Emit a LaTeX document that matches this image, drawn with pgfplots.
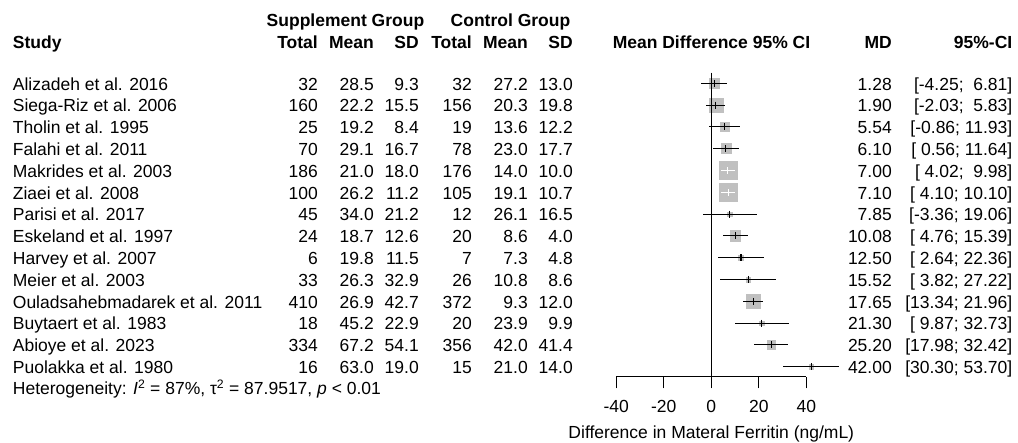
\documentclass[border=0pt]{standalone}
\usepackage{fontspec}
\setmainfont{Liberation Sans}
\usepackage{pgfplots}
\usepackage{pgfplotstable}
\pgfplotsset{compat=1.18}
\definecolor{sq}{HTML}{C0C0C0}

% squares: row, mean difference, half side of the square (pt)
\pgfplotstableread{
y    md     s
-1   1.28   4.7
-2   1.90   7.0
-3   5.54   4.3
-4   6.10   5.0
-5   7.00   9.0
-6   7.10   8.8
-7   7.85   2.3
-8   10.08  5.3
-9   12.50  2.7
-10  15.52  2.3
-11  17.65  6.8
-12  21.30  2.2
-13  25.20  4.2
-14  42.00  2.2
}\sqtab

% confidence intervals drawn in black
\pgfplotstableread{
y    md     lo     hi
-1   1.28   -4.25  6.81
-2   1.90   -2.03  5.83
-3   5.54   -0.86  11.93
-4   6.10   0.56   11.64
-7   7.85   -3.36  19.06
-8   10.08  4.76   15.39
-9   12.50  2.64   22.36
-10  15.52  3.82   27.22
-11  17.65  13.34  21.96
-12  21.30  9.87   32.73
-13  25.20  17.98  32.42
-14  42.00  30.30  53.70
}\citab

% confidence intervals lying inside their square (drawn in white)
\pgfplotstableread{
y    md     lo     hi
-5   7.00   4.02   9.98
-6   7.10   4.10   10.10
}\ciwtab

\newcommand{\rowA}[8]{%
  \pgfmathsetmacro{\yy}{83.3+21.8*(#1-1)+6.8}%
  \node[anchor=base west] at (12.7,\yy) {#2};
  \node[anchor=base east] at (318,\yy) {#3};
  \node[anchor=base east] at (374,\yy) {#4};
  \node[anchor=base east] at (419,\yy) {#5};
  \node[anchor=base east] at (472,\yy) {#6};
  \node[anchor=base east] at (528,\yy) {#7};
  \node[anchor=base east] at (573,\yy) {#8};
}
\newcommand{\rowB}[3]{%
  \pgfmathsetmacro{\yy}{83.3+21.8*(#1-1)+6.8}%
  \node[anchor=base east] at (892,\yy) {#2};
  \node[anchor=base east] at (1012.5,\yy) {#3};
}

\begin{document}
\fontsize{17.5}{21}\selectfont
\begin{tikzpicture}
% pixel-like frame: (px,py) with origin at top left of the figure
\begin{scope}[shift={(-616.3pt,376.7pt)}, x=1pt, y=-1pt, every node/.style={inner sep=0pt}]
  \path[use as bounding box] (0,0) rectangle (1018,442);
  % headers
  \node[anchor=base, font=\bfseries] at (345.5,27) {Supplement Group};
  \node[anchor=base, font=\bfseries] at (510.5,27) {Control Group};
  \node[anchor=base west, font=\bfseries] at (12.7,49) {Study};
  \node[anchor=base east, font=\bfseries] at (318,49) {Total};
  \node[anchor=base east, font=\bfseries] at (374,49) {Mean};
  \node[anchor=base east, font=\bfseries] at (419,49) {SD};
  \node[anchor=base east, font=\bfseries] at (472,49) {Total};
  \node[anchor=base east, font=\bfseries] at (528,49) {Mean};
  \node[anchor=base east, font=\bfseries] at (573,49) {SD};
  \node[anchor=base, font=\bfseries] at (711.5,49) {Mean Difference 95\% CI};
  \node[anchor=base east, font=\bfseries] at (892,49) {MD};
  \node[anchor=base east, font=\bfseries] at (1012.5,49) {95\%-CI};
  % study rows
  \rowA{1}{Alizadeh et al. 2016}{32}{28.5}{9.3}{32}{27.2}{13.0}
  \rowA{2}{Siega-Riz et al. 2006}{160}{22.2}{15.5}{156}{20.3}{19.8}
  \rowA{3}{Tholin et al. 1995}{25}{19.2}{8.4}{19}{13.6}{12.2}
  \rowA{4}{Falahi et al. 2011}{70}{29.1}{16.7}{78}{23.0}{17.7}
  \rowA{5}{Makrides et al. 2003}{186}{21.0}{18.0}{176}{14.0}{10.0}
  \rowA{6}{Ziaei et al. 2008}{100}{26.2}{11.2}{105}{19.1}{10.7}
  \rowA{7}{Parisi et al. 2017}{45}{34.0}{21.2}{12}{26.1}{16.5}
  \rowA{8}{Eskeland et al. 1997}{24}{18.7}{12.6}{20}{8.6}{4.0}
  \rowA{9}{Harvey et al. 2007}{6}{19.8}{11.5}{7}{7.3}{4.8}
  \rowA{10}{Meier et al. 2003}{33}{26.3}{32.9}{26}{10.8}{8.6}
  \rowA{11}{Ouladsahebmadarek et al. 2011}{410}{26.9}{42.7}{372}{9.3}{12.0}
  \rowA{12}{Buytaert et al. 1983}{18}{45.2}{22.9}{20}{23.9}{9.9}
  \rowA{13}{Abioye et al. 2023}{334}{67.2}{54.1}{356}{42.0}{41.4}
  \rowA{14}{Puolakka et al. 1980}{16}{63.0}{19.0}{15}{21.0}{14.0}
  \rowB{1}{1.28}{[-4.25;\ \ 6.81]}
  \rowB{2}{1.90}{[-2.03;\ \ 5.83]}
  \rowB{3}{5.54}{[-0.86; 11.93]}
  \rowB{4}{6.10}{[\ 0.56; 11.64]}
  \rowB{5}{7.00}{[\ 4.02;\ \ 9.98]}
  \rowB{6}{7.10}{[\ 4.10; 10.10]}
  \rowB{7}{7.85}{[-3.36; 19.06]}
  \rowB{8}{10.08}{[\ 4.76; 15.39]}
  \rowB{9}{12.50}{[\ 2.64; 22.36]}
  \rowB{10}{15.52}{[\ 3.82; 27.22]}
  \rowB{11}{17.65}{[13.34; 21.96]}
  \rowB{12}{21.30}{[\ 9.87; 32.73]}
  \rowB{13}{25.20}{[17.98; 32.42]}
  \rowB{14}{42.00}{[30.30; 53.70]}
  \node[anchor=base west] at (12.7,395) {Heterogeneity: {\itshape I}\textsuperscript{2} = 87\%, τ\textsuperscript{2} = 87.9517, {\itshape p} < 0.01};
\end{scope}
\begin{axis}[
  x=2.375pt, y=21.8pt,
  xmin=-40, xmax=40, ymin=-14.459, ymax=-0.514,
  axis x line=bottom, axis y line=none,
  x axis line style={-, line width=1.1pt, black},
  xtick={-40,-20,0,20,40}, ytick=\empty,
  tick align=outside, major tick length=11.7pt,
  xtick style={black, line width=1.1pt},
  /pgf/number format/assume math mode=true,
  xticklabel style={anchor=base, inner sep=0pt, yshift=-24.3pt},
  xlabel={Difference in Materal Ferritin (ng/mL)},
  xlabel style={at={(axis description cs:0.5,0)}, anchor=base, inner sep=0pt, yshift=-61.8pt},
  clip=false, clip marker paths=true,
]
\addplot[scatter, only marks, mark=square*,
  scatter/use mapped color={draw=sq, fill=sq},
  visualization depends on={\thisrow{s}\as\msize},
  scatter/@pre marker code/.append style={/tikz/mark size=\msize}]
  table[x=md, y=y] {\sqtab};
\addplot[black, line width=1.1pt] coordinates {(0,-0.514) (0,-14.459)};
\addplot[only marks, mark=|, mark size=3.5pt, black, mark options={line width=1.1pt},
  error bars/.cd, x dir=both, x explicit, error mark=none,
  error bar style={line width=1.1pt, black}]
  table[x=md, y=y, x error minus expr=\thisrow{md}-\thisrow{lo}, x error plus expr=\thisrow{hi}-\thisrow{md}] {\citab};
% white intervals inside the two largest squares
\addplot[white, line width=1.1pt] coordinates {(4.02,-5) (9.98,-5)};
\addplot[white, line width=1.1pt] coordinates {(4.10,-6) (10.10,-6)};
\addplot[only marks, mark=|, mark size=3.5pt, white, mark options={line width=1.1pt, draw=white}]
  table[x=md, y=y] {\ciwtab};
\end{axis}
\end{tikzpicture}
\end{document}
